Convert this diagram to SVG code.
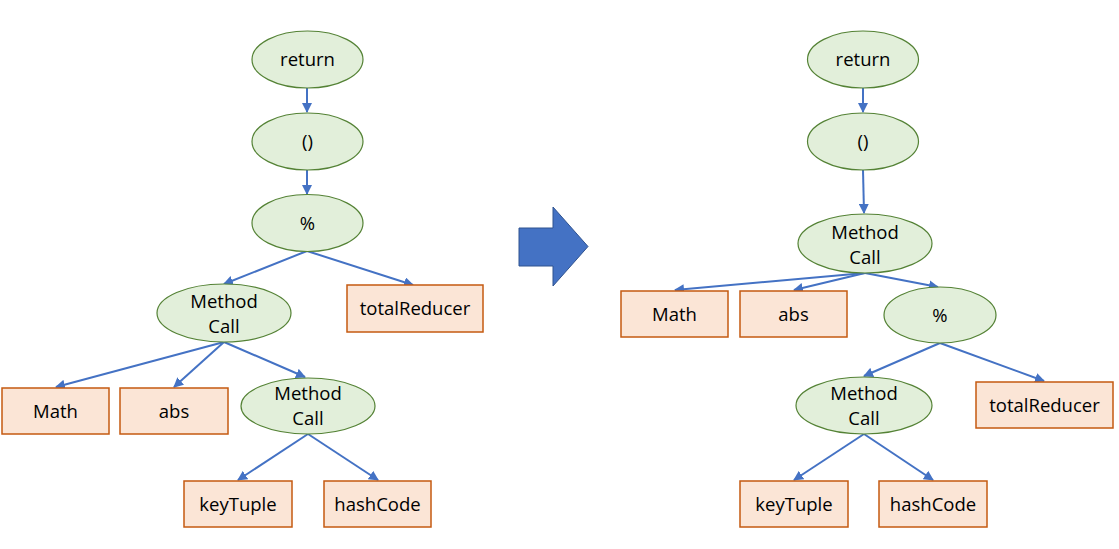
<svg xmlns="http://www.w3.org/2000/svg" width="1119" height="549" viewBox="0 0 1119 549">
<style>
.ell{fill:#E2EFDA;stroke:#548235;stroke-width:1.2}
.box{fill:#FBE5D6;stroke:#C55A11;stroke-width:1.5}
.t{font-family:"Open Sans","Liberation Sans",sans-serif;font-size:18.5px;fill:#000;text-anchor:middle}
.c{stroke:#4472C4;stroke-width:2;fill:none;marker-end:url(#ah)}
</style>
<defs>
<marker id="ah" viewBox="0 0 10 10" refX="9" refY="5" markerWidth="5" markerHeight="5" orient="auto" markerUnits="strokeWidth">
<path d="M0,0 L10,5 L0,10 z" fill="#4472C4"/>
</marker>
</defs>
<rect width="1119" height="549" fill="#fff"/>
<g id="connectors">
<line class="c" x1="307" y1="88" x2="307" y2="112"/>
<line class="c" x1="307" y1="170" x2="307" y2="194"/>
<line class="c" x1="307" y1="251" x2="224" y2="284"/>
<line class="c" x1="307" y1="251" x2="413" y2="285"/>
<line class="c" x1="224" y1="342" x2="56" y2="387"/>
<line class="c" x1="224" y1="342" x2="174" y2="387"/>
<line class="c" x1="224" y1="342" x2="305" y2="377"/>
<line class="c" x1="308" y1="434" x2="238" y2="480"/>
<line class="c" x1="308" y1="434" x2="378" y2="480"/>
<line class="c" x1="863" y1="88" x2="863" y2="112"/>
<line class="c" x1="863" y1="170" x2="864" y2="213"/>
<line class="c" x1="865" y1="273" x2="675" y2="290"/>
<line class="c" x1="865" y1="273" x2="794" y2="290"/>
<line class="c" x1="865" y1="273" x2="938" y2="287"/>
<line class="c" x1="940" y1="343" x2="864" y2="376"/>
<line class="c" x1="940" y1="343" x2="1044" y2="381"/>
<line class="c" x1="864" y1="434" x2="794" y2="480"/>
<line class="c" x1="864" y1="434" x2="933" y2="480"/>
</g>
<g id="bigarrow">
<path d="M519,228 L553,228 L553,207 L588,246.5 L553,286 L553,266 L519,266 Z" fill="#4472C4" stroke="#2F528F" stroke-width="1"/>
</g>
<g id="L-return"><ellipse class="ell" cx="307.5" cy="59.5" rx="55.5" ry="28.5"/><text class="t" x="307.5" y="66">return</text></g>
<g id="L-paren"><ellipse class="ell" cx="307.5" cy="141.5" rx="55.5" ry="28.5"/><text class="t" x="307.5" y="148">()</text></g>
<g id="L-mod"><ellipse class="ell" cx="307.5" cy="223" rx="55.5" ry="28.5"/><text class="t" x="307.5" y="229.5">%</text></g>
<g id="L-mc1"><ellipse class="ell" cx="224" cy="313" rx="67" ry="29"/><text class="t" x="224" y="307.5">Method</text><text class="t" x="224" y="332.5">Call</text></g>
<g id="L-total"><rect class="box" x="347" y="285" width="136" height="47"/><text class="t" x="415" y="315">totalReducer</text></g>
<g id="L-math"><rect class="box" x="2" y="388" width="107" height="46"/><text class="t" x="55.5" y="418">Math</text></g>
<g id="L-abs"><rect class="box" x="120" y="388" width="108" height="46"/><text class="t" x="174" y="418">abs</text></g>
<g id="L-mc2"><ellipse class="ell" cx="308" cy="406" rx="67" ry="28"/><text class="t" x="308" y="399.5">Method</text><text class="t" x="308" y="424.5">Call</text></g>
<g id="L-key"><rect class="box" x="184" y="481" width="108" height="46"/><text class="t" x="238" y="511">keyTuple</text></g>
<g id="L-hash"><rect class="box" x="324" y="481" width="107" height="46"/><text class="t" x="377.5" y="511">hashCode</text></g>
<g id="R-return"><ellipse class="ell" cx="863" cy="59.5" rx="55.5" ry="28.5"/><text class="t" x="863" y="66">return</text></g>
<g id="R-paren"><ellipse class="ell" cx="863" cy="141.5" rx="55.5" ry="28.5"/><text class="t" x="863" y="148">()</text></g>
<g id="R-mc1"><ellipse class="ell" cx="865" cy="243.5" rx="67" ry="29.5"/><text class="t" x="865" y="239">Method</text><text class="t" x="865" y="264">Call</text></g>
<g id="R-math"><rect class="box" x="621" y="291" width="107" height="46"/><text class="t" x="674.5" y="321">Math</text></g>
<g id="R-abs"><rect class="box" x="740" y="291" width="107" height="46"/><text class="t" x="793.5" y="321">abs</text></g>
<g id="R-mod"><ellipse class="ell" cx="940" cy="315" rx="56" ry="28"/><text class="t" x="940" y="321.5">%</text></g>
<g id="R-mc2"><ellipse class="ell" cx="864" cy="405.5" rx="68" ry="28.5"/><text class="t" x="864" y="399.5">Method</text><text class="t" x="864" y="424.5">Call</text></g>
<g id="R-total"><rect class="box" x="976" y="382" width="137" height="46"/><text class="t" x="1044.5" y="412">totalReducer</text></g>
<g id="R-key"><rect class="box" x="740" y="481" width="108" height="46"/><text class="t" x="794" y="511">keyTuple</text></g>
<g id="R-hash"><rect class="box" x="879" y="481" width="108" height="46"/><text class="t" x="933" y="511">hashCode</text></g>
</svg>
